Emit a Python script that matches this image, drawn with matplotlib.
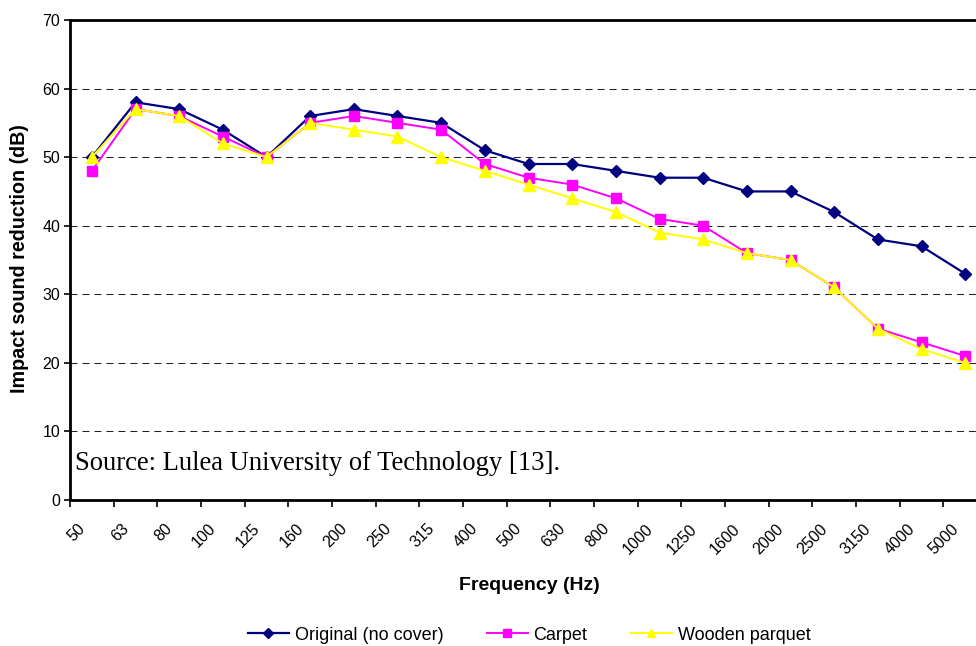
import matplotlib
matplotlib.use("Agg")
import matplotlib.pyplot as plt
import matplotlib.transforms as mtransforms
import numpy as np

freqs = ["50", "63", "80", "100", "125", "160", "200", "250", "315", "400", "500",
         "630", "800", "1000", "1250", "1600", "2000", "2500", "3150", "4000", "5000"]
original = [50, 58, 57, 54, 50, 56, 57, 56, 55, 51, 49, 49, 48, 47, 47, 45, 45, 42, 38, 37, 33]
carpet = [48, 57, 56, 53, 50, 55, 56, 55, 54, 49, 47, 46, 44, 41, 40, 36, 35, 31, 25, 23, 21]
wooden = [50, 57, 56, 52, 50, 55, 54, 53, 50, 48, 46, 44, 42, 39, 38, 36, 35, 31, 25, 22, 20]

plt.rcParams["font.family"] = ["Liberation Sans", "DejaVu Sans"]

fig = plt.figure(figsize=(9.76, 6.46), dpi=100)
# axes run a little past the right edge, as in the cropped original
ax = fig.add_axes([70 / 976, 146 / 646, 917 / 976, 480 / 646])

x = np.arange(len(freqs))
ax.plot(x, original, color="#000080", lw=1.6, marker="D", ms=6.5, label="Original (no cover)", zorder=3)
ax.plot(x, carpet, color="#FF00FF", lw=1.4, marker="s", ms=7, label="Carpet", zorder=4)
ax.plot(x, wooden, color="#FFFF00", lw=1.4, marker="^", ms=8.5, label="Wooden parquet", zorder=5)

ax.set_xlim(-0.5, len(freqs) - 0.5)
ax.set_ylim(0, 70)
ax.set_yticks(range(0, 71, 10))
for yv in range(10, 70, 10):
    ax.axhline(yv, color="#222222", lw=0.75, ls=(0, (6.7, 4.8)), zorder=1)

# category labels at centres, tick marks on the boundaries
ax.set_xticks(x)
ax.set_xticks(np.arange(-0.5, len(freqs)), minor=True)
ax.tick_params(axis="x", which="major", length=0, pad=19)
ax.tick_params(axis="x", which="minor", length=5, width=1.2, direction="out")
ax.tick_params(axis="y", length=4, width=1.2, direction="out", labelsize=11.5, pad=3)
ax.set_xticklabels(freqs, rotation=45, ha="right", va="center",
                   rotation_mode="anchor", fontsize=11.5)
shift = mtransforms.ScaledTranslation(-0.09, 0, fig.dpi_scale_trans)
for lab in ax.get_xticklabels():
    lab.set_transform(lab.get_transform() + shift)

for side in ["left", "bottom", "top"]:
    ax.spines[side].set_linewidth(2)
    ax.spines[side].set_color("black")
ax.spines["right"].set_visible(False)

fig.text(75 / 976, 1 - 463 / 646, "Source: Lulea University of Technology [13].",
         fontsize=19.2, family="Liberation Serif", va="center")

fig.text(20 / 976, 1 - 259 / 646, "Impact sound reduction (dB)", rotation=90,
         ha="center", va="center", fontsize=14.2, fontweight="bold")
fig.text(529 / 976, 1 - 585 / 646, "Frequency (Hz)", ha="center", va="center",
         fontsize=14, fontweight="bold")

fig.legend(loc="center", bbox_to_anchor=(529 / 976, 1 - 635 / 646), ncol=3,
           frameon=False, fontsize=13, handlelength=2.3, handletextpad=0.3,
           columnspacing=2.4, markerscale=0.75)

fig.savefig("out.png", dpi=100)
